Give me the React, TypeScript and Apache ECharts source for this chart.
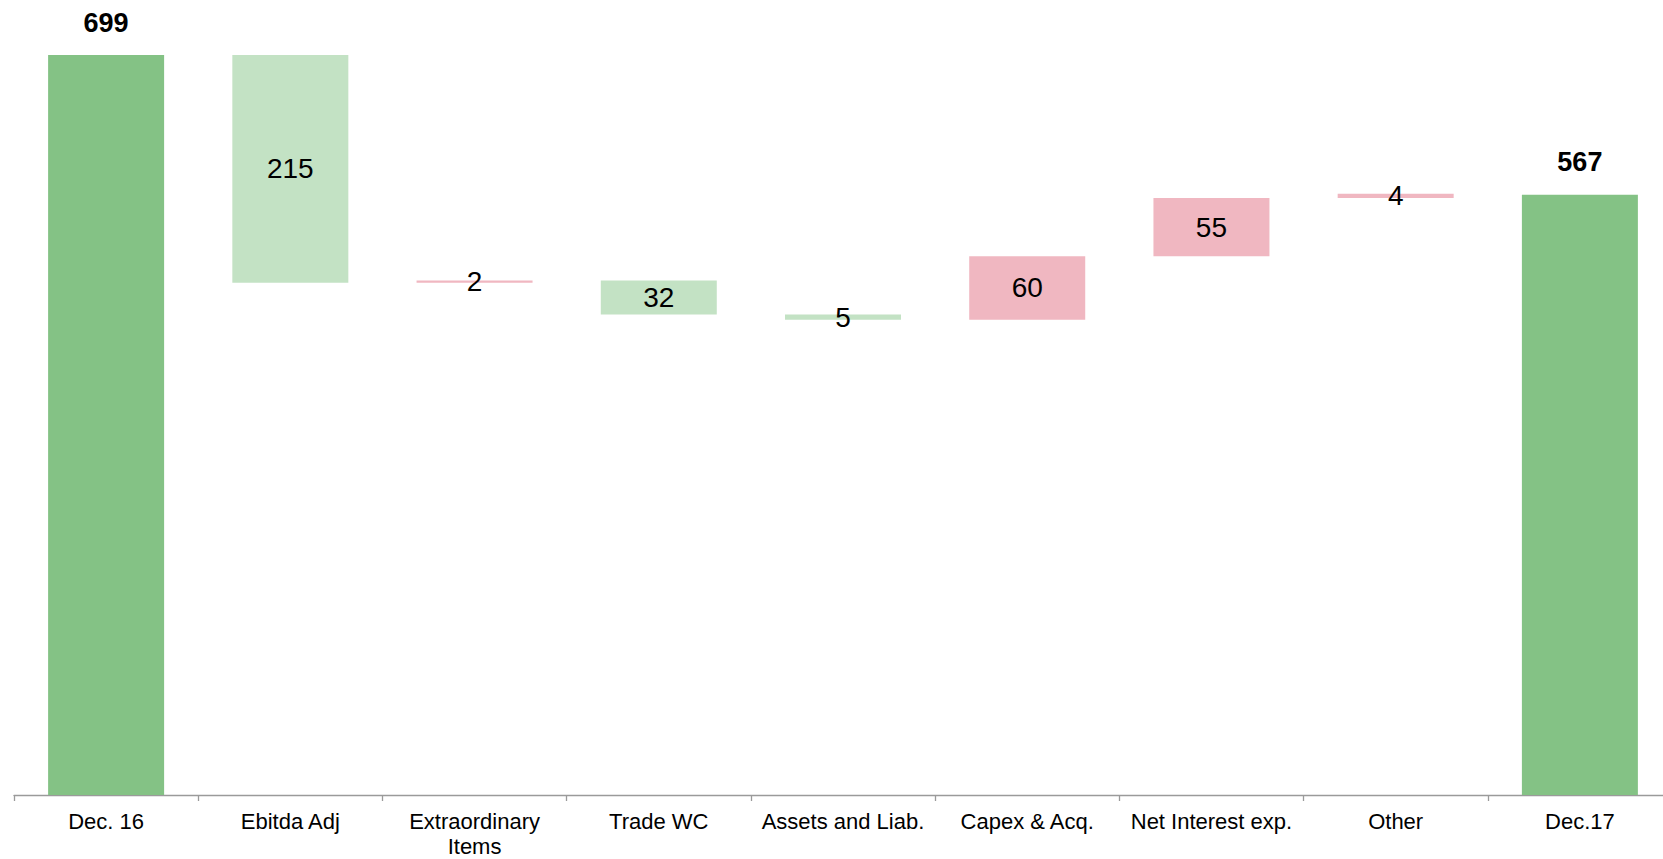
import React, { useEffect, useRef } from "react";
import * as echarts from "echarts";

// Net debt bridge, Dec. 16 -> Dec.17
const categories = [
  "Dec. 16",
  "Ebitda Adj",
  "Extraordinary\nItems",
  "Trade WC",
  "Assets and Liab.",
  "Capex & Acq.",
  "Net Interest exp.",
  "Other",
  "Dec.17",
];
// signed movement for each step; totals carry their own level
const amounts = [699, -215, 2, -32, -5, 60, 55, 4, 567];
const kinds = ["total", "step", "step", "step", "step", "step", "step", "step", "total"];

const COLOR_TOTAL = "#84c285";
const COLOR_DOWN = "#c3e2c4";
const COLOR_UP = "#f0b7c1";
const FONT = "'Liberation Sans', Arial, sans-serif";

function buildSeries() {
  const base: number[] = [];
  const body: any[] = [];
  let level = 0;
  amounts.forEach((v, i) => {
    if (kinds[i] === "total") {
      level = v;
      base.push(0);
      body.push({
        value: v,
        itemStyle: { color: COLOR_TOTAL },
        label: {
          show: true,
          position: "top",
          distance: 19,
          fontWeight: "bold",
          fontSize: 27,
          color: "#000",
          fontFamily: FONT,
        },
      });
    } else {
      const next = level + v;
      base.push(Math.min(level, next));
      body.push({
        value: Math.abs(v),
        itemStyle: { color: v < 0 ? COLOR_DOWN : COLOR_UP },
        label: {
          show: true,
          position: "inside",
          fontSize: 28,
          color: "#000",
          fontFamily: FONT,
        },
      });
      level = next;
    }
  });
  return { base, body };
}

export default function App() {
  const ref = useRef<HTMLDivElement>(null);

  useEffect(() => {
    if (!ref.current) return;
    const chart = echarts.init(ref.current, undefined, { renderer: "svg" });
    const { base, body } = buildSeries();
    chart.setOption({
      animation: false,
      backgroundColor: "#fff",
      grid: { left: 14, top: 54, width: 1658, bottom: 64, containLabel: false },
      xAxis: {
        type: "category",
        data: categories,
        boundaryGap: true,
        axisLine: { show: true, lineStyle: { color: "#9a9a9a", width: 1.3 } },
        axisTick: { show: true, alignWithLabel: false, length: 6, lineStyle: { color: "#9a9a9a", width: 1.3 } },
        axisLabel: {
          interval: 0,
          margin: 14,
          fontSize: 22,
          lineHeight: 25,
          color: "#000",
          fontFamily: FONT,
        },
        splitLine: { show: false },
      },
      yAxis: {
        type: "value",
        min: 0,
        max: 700,
        show: false,
      },
      series: [
        {
          type: "bar",
          stack: "bridge",
          data: base,
          barWidth: 116,
          itemStyle: { color: "transparent" },
          emphasis: { disabled: true },
          silent: true,
        },
        {
          type: "bar",
          stack: "bridge",
          data: body,
          barWidth: 116,
        },
      ],
    });
    return () => chart.dispose();
  }, []);

  return (
    <div
      style={{ position: "absolute", left: 0, top: 0, width: 1663, height: 859, overflow: "hidden", background: "#fff" }}
    >
      <div ref={ref} style={{ width: 1700, height: 859 }} />
    </div>
  );
}
